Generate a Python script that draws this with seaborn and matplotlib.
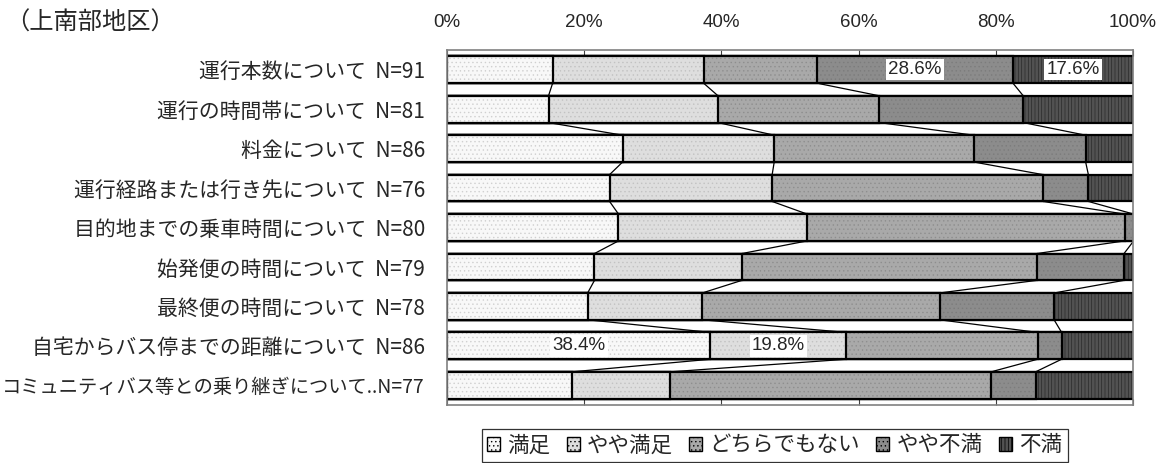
import numpy as np
import pandas as pd
import matplotlib
matplotlib.use("Agg")
import matplotlib.pyplot as plt
import seaborn as sns
from matplotlib.colors import to_rgba
from matplotlib.patches import Patch

# 設問と回答数
items = ["運行本数について", "運行の時間帯について", "料金について",
         "運行経路または行き先について", "目的地までの乗車時間について",
         "始発便の時間について", "最終便の時間について",
         "自宅からバス停までの距離について", "コミュニティバス等との乗り継ぎについて.."]
n_resp = [91, 81, 86, 76, 80, 79, 78, 86, 77]

answers = ["満足", "やや満足", "どちらでもない", "やや不満", "不満"]

# 各回答の割合 (%)
satisfied      = [15.4, 14.8, 25.6, 23.7, 25.0, 21.5, 20.5, 38.4, 18.2]
some_satisfied = [22.0, 24.7, 22.1, 23.7, 27.5, 21.5, 16.7, 19.8, 14.3]
neutral        = [16.5, 23.5, 29.1, 39.5, 46.3, 43.0, 34.6, 27.9, 46.8]
some_unsat     = [28.6, 21.0, 16.3, 6.6, 1.3, 12.7, 16.7, 3.5, 6.5]
unsatisfied    = [17.6, 16.0, 7.0, 6.6, 0.0, 1.3, 11.5, 10.5, 14.3]

# 値を表示するセル (行, 回答)
shown = [(0, 3), (0, 4), (7, 0), (7, 1)]

labels = [f"{t}  N={n}" if not t.endswith("..") else f"{t}N={n}"
          for t, n in zip(items, n_resp)]

df = pd.DataFrame({"item": labels, "満足": satisfied, "やや満足": some_satisfied,
                   "どちらでもない": neutral, "やや不満": some_unsat, "不満": unsatisfied})
vals = df[answers].to_numpy()
cum = vals.cumsum(axis=1)

fills = ["#f8f8f8", "#dedede", "#a9a9a9", "#8c8c8c", "#525252"]
hatches = ["....", "....", "....", "....", "|||||"]
hatch_cols = ["#d0d0d0", "#c2c2c2", "#8e8e8e", "#7c7c7c", "#2a2a2a"]

sns.set_style("white")
plt.rcParams["font.family"] = ["Noto Sans CJK JP", "DejaVu Sans"]
plt.rcParams["hatch.linewidth"] = 0.5

fig = plt.figure(figsize=(11.65, 4.63), dpi=100)
ax = fig.add_axes([0.3837, 0.1253, 0.5888, 0.7667])

bar_h = 0.68
# 累積値を大きい方から重ねて積み上げ棒にする
for k in range(4, -1, -1):
    df["cum"] = cum[:, k]
    sns.barplot(data=df, x="cum", y="item", orient="h", color=fills[k],
                width=bar_h, edgecolor="black", linewidth=1.6, ax=ax,
                saturation=1)
    for p in ax.containers[-1]:
        p.set_facecolor(fills[k])
        p.set_hatch(hatches[k])
        p._hatch_color = to_rgba(hatch_cols[k])

# 区分線
for i in range(len(labels) - 1):
    for k in range(4):
        ax.plot([cum[i, k], cum[i + 1, k]], [i + bar_h / 2, i + 1 - bar_h / 2],
                color="black", lw=0.9, zorder=1)

# 値ラベル
pct_font = ["Liberation Sans Narrow", "Liberation Sans", "DejaVu Sans"]
for i, k in shown:
    x = cum[i, k] - vals[i, k] / 2
    ax.text(x, i, f"{vals[i, k]:.1f}%", ha="center", va="center", fontsize=13.5,
            family=pct_font, zorder=5,
            bbox=dict(boxstyle="square,pad=0.12", fc="white", ec="none"))

ax.set_xlim(0, 100)
ax.set_ylim(len(labels) - 0.5, -0.5)
ax.set_xticks(range(0, 101, 20))
ax.set_xticklabels([f"{v}%" for v in range(0, 101, 20)], family=pct_font, fontsize=13.5)
ax.xaxis.tick_top()
ax.tick_params(axis="x", which="both", direction="in", length=4, top=True, bottom=True,
               labeltop=True, labelbottom=False, color="#404040", pad=14)
ax.set_yticks(np.arange(len(labels)))
ax.set_yticklabels(labels, fontsize=15)
ax.get_yticklabels()[-1].set_fontsize(13.9)
ax.set_yticks(np.arange(len(labels) + 1) - 0.5, minor=True)
ax.tick_params(axis="y", which="major", length=0, pad=16)
ax.tick_params(axis="y", which="minor", direction="in", length=5, color="#404040")
ax.set_xlabel("")
ax.set_ylabel("")
for s in ax.spines.values():
    s.set_color("#808080")
    s.set_linewidth(1.2)

fig.text(0.004, 0.952, "（上南部地区）", fontsize=17.5, ha="left", va="center")

handles = [Patch(facecolor=fills[k], edgecolor="black", hatch=hatches[k], lw=1)
           for k in range(5)]
leg = fig.legend(handles, answers, loc="center", bbox_to_anchor=(0.665, 0.038),
                 ncol=5, fontsize=15.5, frameon=True, fancybox=False, edgecolor="black",
                 handlelength=0.6, handleheight=0.6, handletextpad=0.35,
                 columnspacing=0.75, borderpad=0.25, borderaxespad=0)
leg.get_frame().set_linewidth(0.9)

fig.savefig("out.png", dpi=100)
